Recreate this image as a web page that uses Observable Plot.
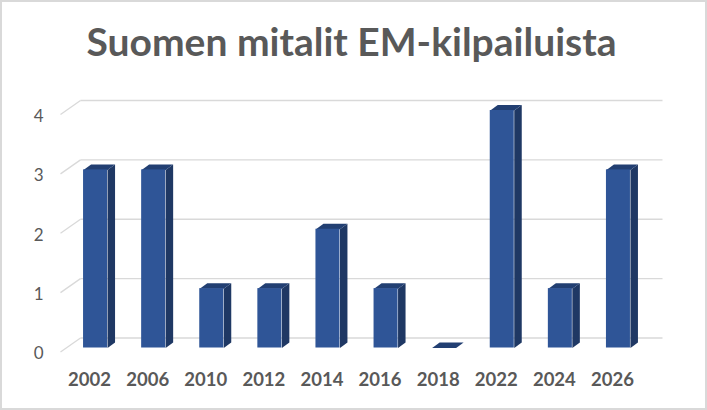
<!DOCTYPE html>
<html>
<head>
<meta charset="utf-8">
<script src="https://cdn.jsdelivr.net/npm/d3@7"></script>
<script src="https://cdn.jsdelivr.net/npm/@observablehq/plot@0.6"></script>
<style>
  html, body { margin: 0; padding: 0; background: #fff; }
  #wrap { position: relative; width: 707px; height: 410px; overflow: hidden; background: #fff; }
  #chart { position: absolute; left: 0; top: 0; }
  #title { position: absolute; left: 0; top: 22px; width: 703px; text-align: center;
    font-family: Lato, "Open Sans", sans-serif; font-weight: 700; font-size: 39px; line-height: 39px; color: #595959; }
  #border { position: absolute; left: 0; top: 0; width: 707px; height: 410px; box-sizing: border-box;
    border: 2px solid #d9d9d9; pointer-events: none; }
</style>
</head>
<body>
<div id="wrap">
  <div id="chart"></div>
  <div id="title">Suomen mitalit EM-kilpailuista</div>
  <div id="border"></div>
</div>
<script>
// ---- data ----
const years = ["2002", "2006", "2010", "2012", "2014", "2016", "2018", "2022", "2024", "2026"];
const medals = [3, 3, 1, 1, 2, 1, 0, 4, 1, 3];
const yTicks = [0, 1, 2, 3, 4];

// ---- layout (pixels) ----
const W = 707, H = 410;
const mLeft = 66, mRight = 60, mTop = 110, mBottom = 62.5;
const PX = (W - mLeft - mRight) / 10;      // px per category
const PY = (H - mTop - mBottom) / 4;       // px per medal
const ux = p => p / PX, uy = p => p / PY;

const halfW = ux(12);     // half front-face width
const sideX = ux(7.5);    // depth offset x
const sideY = uy(5.5);    // depth offset y

const bars = years.map((year, i) => ({year, i, v: medals[i]}));

const sidePts = bars.flatMap(b => [
  {id: b.i, x: b.i + halfW, y: 0},
  {id: b.i, x: b.i + halfW + sideX, y: sideY},
  {id: b.i, x: b.i + halfW + sideX, y: b.v + sideY},
  {id: b.i, x: b.i + halfW, y: b.v}
]);
const topPts = bars.flatMap(b => [
  {id: b.i, x: b.i - halfW, y: b.v},
  {id: b.i, x: b.i - halfW + sideX, y: b.v + sideY},
  {id: b.i, x: b.i + halfW + sideX, y: b.v + sideY},
  {id: b.i, x: b.i + halfW, y: b.v}
]);

const gridX1 = -0.5 + ux(14), gridX2 = 9.5 + ux(15);
const stubX1 = -0.5 - ux(6);

const chart = Plot.plot({
  width: W, height: H,
  marginLeft: mLeft, marginRight: mRight, marginTop: mTop, marginBottom: mBottom,
  x: {type: "linear", domain: [-0.5, 9.5], axis: null},
  y: {type: "linear", domain: [0, 4], axis: null},
  style: {background: "transparent", overflow: "visible"},
  marks: [
    // back-wall gridlines
    Plot.link(yTicks, {x1: gridX1, x2: gridX2, y1: d => d + uy(10), y2: d => d + uy(10), stroke: "#d9d9d9", strokeWidth: 1.3}),
    // floor/wall diagonal stubs
    Plot.link(yTicks, {x1: stubX1, y1: d => d - uy(4), x2: gridX1, y2: d => d + uy(10), stroke: "#d9d9d9", strokeWidth: 1.3}),
    // side faces
    Plot.line(sidePts, {x: "x", y: "y", z: "id", fill: "#1f3864", stroke: "none"}),
    // top faces
    Plot.line(topPts, {x: "x", y: "y", z: "id", fill: "#223f72", stroke: "none"}),
    // front faces
    Plot.rect(bars, {x1: d => d.i - halfW, x2: d => d.i + halfW, y1: 0, y2: "v", fill: "#2f5597"}),
    // y labels
    Plot.text(yTicks, {x: -0.5 - ux(23), y: d => d, dy: 6, text: d => String(d), textAnchor: "end",
      fontSize: 17, fontFamily: "Lato, 'Open Sans', sans-serif", fill: "#595959"}),
    // x labels
    Plot.text(bars, {x: d => d.i - ux(6), y: 0, dy: 32.5, text: "year",
      fontSize: 18.5, fontWeight: "bold", fontFamily: "Lato, 'Open Sans', sans-serif", fill: "#595959"})
  ]
});
document.getElementById("chart").appendChild(chart);
</script>
</body>
</html>
